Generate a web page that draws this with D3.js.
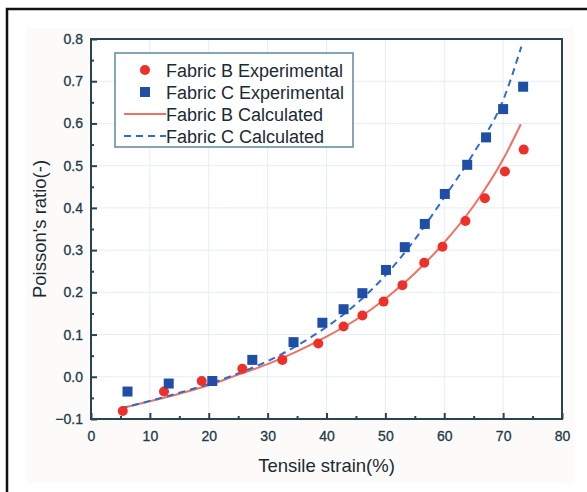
<!DOCTYPE html>
<html><head><meta charset="utf-8">
<script src="https://cdn.jsdelivr.net/npm/d3@7"></script>
<style>body{margin:0;background:#fff;} svg{display:block;font-family:"Liberation Sans",Arial,sans-serif;}</style>
</head><body>
<svg id="c" width="587" height="492"></svg>
<script>
// Data
const bExpX = [5.4, 12.4, 18.8, 25.7, 32.5, 38.6, 42.9, 46.1, 49.7, 52.9, 56.6, 59.7, 63.6, 66.9, 70.3, 73.5];
const bExpY = [-0.081, -0.035, -0.010, 0.019, 0.040, 0.079, 0.119, 0.145, 0.178, 0.217, 0.270, 0.308, 0.369, 0.423, 0.486, 0.538];
const cExpX = [6.2, 13.2, 20.6, 27.4, 34.4, 39.3, 42.9, 46.1, 50.1, 53.3, 56.7, 60.1, 63.9, 67.1, 70.0, 73.4];
const cExpY = [-0.035, -0.016, -0.010, 0.040, 0.082, 0.128, 0.160, 0.198, 0.253, 0.307, 0.362, 0.433, 0.502, 0.567, 0.634, 0.687];
const bCalcX = [5, 10, 15, 20, 25, 30, 35, 40, 45, 50, 55, 60, 65, 70, 73];
const bCalcY = [-0.075, -0.058, -0.040, -0.020, 0.005, 0.030, 0.060, 0.095, 0.135, 0.185, 0.245, 0.318, 0.405, 0.515, 0.598];
const cCalcX = [5, 10, 15, 20, 25, 30, 35, 40, 45, 50, 55, 60, 65, 70, 73.1];
const cCalcY = [-0.075, -0.057, -0.038, -0.017, 0.008, 0.037, 0.074, 0.118, 0.172, 0.240, 0.325, 0.425, 0.530, 0.655, 0.782];
const xTicks = [0, 10, 20, 30, 40, 50, 60, 70, 80];
const yTicks = [-0.1, 0.0, 0.1, 0.2, 0.3, 0.4, 0.5, 0.6, 0.7, 0.8];
const legendLabels = ["Fabric B Experimental", "Fabric C Experimental", "Fabric B Calculated", "Fabric C Calculated"];
const xTitle = "Tensile strain(%)";
const yTitle = "Poisson's ratio(-)";

const svg = d3.select("#c");
const axisCol = "#2a4350";
const textCol = "#1b2a33";
const red = "#ee2f2a", blue = "#1f4ea6", redLine = "#f2705f", blueLine = "#2f6cd0";

// outer frame
svg.append("rect").attr("x", 7).attr("y", 9).attr("width", 620).attr("height", 520)
  .attr("fill", "#fff").attr("stroke", "#111").attr("stroke-width", 2.5);
svg.append("rect").attr("x", 26).attr("y", 28).attr("width", 548).attr("height", 455).attr("fill", "#fcfbfa");

const L = 91, R = 562, T = 39, B = 419;
const x = d3.scaleLinear().domain([0, 80]).range([L, R]);
const y = d3.scaleLinear().domain([-0.1, 0.8]).range([B, T]);

svg.append("rect").attr("x", L).attr("y", T).attr("width", R - L).attr("height", B - T).attr("fill", "#fff");

// grid
const g = svg.append("g");
g.selectAll("line.gx").data(xTicks.slice(1, -1)).join("line")
  .attr("x1", d => x(d)).attr("x2", d => x(d)).attr("y1", T).attr("y2", B)
  .attr("stroke", "#e4eef8").attr("stroke-width", 1);
g.selectAll("line.gy").data(yTicks.slice(1, -1)).join("line")
  .attr("x1", L).attr("x2", R).attr("y1", d => y(d)).attr("y2", d => y(d))
  .attr("stroke", "#e4eef8").attr("stroke-width", 1);

// axes
const xMinor = d3.range(5, 80, 10);
const yMinor = d3.range(-0.05, 0.8, 0.1);
const xa = svg.append("g").attr("transform", `translate(0,${B})`)
  .call(d3.axisBottom(x).tickValues(xTicks).tickFormat(d3.format("d")).tickSizeInner(-6).tickSizeOuter(0).tickPadding(12));
const xam = svg.append("g").attr("transform", `translate(0,${B})`)
  .call(d3.axisBottom(x).tickValues(xMinor).tickFormat("").tickSizeInner(-3).tickSizeOuter(0));
const ya = svg.append("g").attr("transform", `translate(${L},0)`)
  .call(d3.axisLeft(y).tickValues(yTicks).tickFormat(d3.format(".1f")).tickSizeInner(-6).tickSizeOuter(0).tickPadding(8));
const yam = svg.append("g").attr("transform", `translate(${L},0)`)
  .call(d3.axisLeft(y).tickValues(yMinor).tickFormat("").tickSizeInner(-3).tickSizeOuter(0));
[xa, xam, ya, yam].forEach(a => {
  a.select(".domain").remove();
  a.selectAll("line").attr("stroke", axisCol).attr("stroke-width", 2);
  a.selectAll("text").attr("fill", "#233a48").attr("font-size", 14)
    .attr("stroke", "#233a48").attr("stroke-width", 0.3);
});
svg.append("rect").attr("x", L).attr("y", T).attr("width", R - L).attr("height", B - T)
  .attr("fill", "none").attr("stroke", axisCol).attr("stroke-width", 2);

// lines
const line = d3.line().x(d => x(d[0])).y(d => y(d[1])).curve(d3.curveMonotoneX);
svg.append("path").datum(d3.zip(bCalcX, bCalcY)).attr("d", line)
  .attr("fill", "none").attr("stroke", redLine).attr("stroke-width", 2);
svg.append("path").datum(d3.zip(cCalcX, cCalcY)).attr("d", line)
  .attr("fill", "none").attr("stroke", blueLine).attr("stroke-width", 2).attr("stroke-dasharray", "7,5");

// points
svg.append("g").selectAll("circle").data(d3.zip(bExpX, bExpY)).join("circle")
  .attr("cx", d => x(d[0])).attr("cy", d => y(d[1])).attr("r", 5).attr("fill", red);
svg.append("g").selectAll("rect").data(d3.zip(cExpX, cExpY)).join("rect")
  .attr("x", d => x(d[0]) - 5).attr("y", d => y(d[1]) - 5).attr("width", 10).attr("height", 10).attr("fill", blue);

// legend
const lg = svg.append("g");
lg.append("rect").attr("x", 115).attr("y", 53).attr("width", 238).attr("height", 94)
  .attr("fill", "#fff").attr("stroke", "#5d8a9a").attr("stroke-width", 1.5);
const rowsY = [70, 92, 114, 136];
lg.append("circle").attr("cx", 145).attr("cy", rowsY[0]).attr("r", 5).attr("fill", red);
lg.append("rect").attr("x", 140).attr("y", rowsY[1] - 5).attr("width", 10).attr("height", 10).attr("fill", blue);
lg.append("line").attr("x1", 124).attr("x2", 166).attr("y1", rowsY[2]).attr("y2", rowsY[2])
  .attr("stroke", redLine).attr("stroke-width", 2);
lg.append("line").attr("x1", 124).attr("x2", 166).attr("y1", rowsY[3]).attr("y2", rowsY[3])
  .attr("stroke", blueLine).attr("stroke-width", 2).attr("stroke-dasharray", "7,5");
lg.selectAll("text").data(legendLabels).join("text")
  .attr("x", 166).attr("y", (d, i) => rowsY[i] + 6.5).text(d => d)
  .attr("font-size", 18).attr("fill", textCol).attr("textLength", null);

// titles
svg.append("text").attr("x", (L + R) / 2).attr("y", 472).attr("text-anchor", "middle")
  .attr("font-size", 18.5).attr("fill", textCol).text(xTitle);
svg.append("text").attr("transform", `translate(46,${(T + B) / 2}) rotate(-90)`).attr("text-anchor", "middle")
  .attr("font-size", 18.5).attr("fill", textCol).text(yTitle);
</script>
</body></html>
